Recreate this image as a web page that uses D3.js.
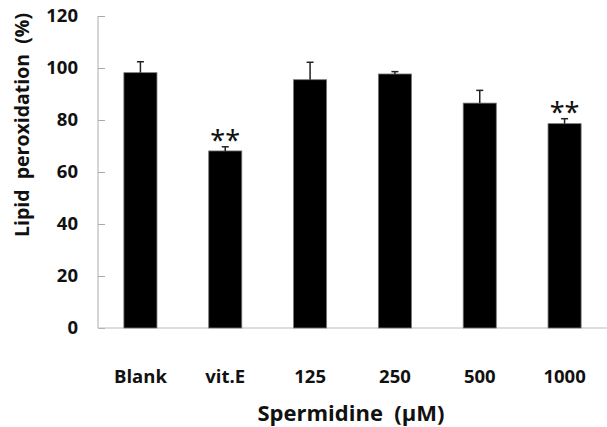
<!DOCTYPE html>
<html>
<head>
<meta charset="utf-8">
<script src="https://cdn.jsdelivr.net/npm/d3@7"></script>
<style>
  body { margin: 0; background: #fff; }
  text { font-family: "Open Sans", "Noto Sans", sans-serif; fill: #111; white-space: pre; }
</style>
</head>
<body>
<svg id="chart"></svg>
<script>
// values
var groups = ["Blank", "vit.E", "125", "250", "500", "1000"];
var means = [98.2, 68.1, 95.5, 97.7, 86.5, 78.6];
var errors = [4.2, 1.6, 6.7, 0.9, 4.9, 1.9];
var signif = ["", "**", "", "", "", "**"];
var yTicks = [0, 20, 40, 60, 80, 100, 120];

var width = 607, height = 427;
var margin = {top: 16, right: 0, bottom: 99, left: 98};

var svg = d3.select("#chart")
  .attr("width", width)
  .attr("height", height);

var x = d3.scaleBand()
  .domain(groups)
  .range([margin.left, width - margin.right])
  .paddingInner(0.61)
  .paddingOuter(0.305);

var y = d3.scaleLinear()
  .domain([0, 120])
  .range([height - margin.bottom, margin.top]);

// y axis, ticks pointing inward
var yAxis = svg.append("g")
  .attr("transform", "translate(" + margin.left + ",0)")
  .call(d3.axisRight(y).tickValues(yTicks).tickSize(7).tickFormat(d3.format("d")));
yAxis.select(".domain").attr("stroke", "#aaa").attr("d", "M0," + y(0) + "V" + y(120));
yAxis.selectAll(".tick line").attr("stroke", "#aaa");
yAxis.selectAll(".tick text")
  .attr("x", -20)
  .attr("text-anchor", "end")
  .style("font-size", "18.5px")
  .style("font-weight", "bold");

// x axis
var xAxis = svg.append("g")
  .attr("transform", "translate(0," + y(0) + ")")
  .call(d3.axisBottom(x).tickSize(0));
xAxis.select(".domain").attr("stroke", "#bbb").attr("d", "M" + margin.left + ",0H" + width);
xAxis.selectAll(".tick text")
  .attr("y", 55)
  .attr("dy", "0")
  .style("font-size", "18.5px")
  .style("font-weight", "bold");

// bars
svg.selectAll("rect.bar")
  .data(means)
  .enter()
  .append("rect")
  .attr("class", "bar")
  .attr("x", function(d, i) { return x(groups[i]); })
  .attr("y", function(d) { return y(d); })
  .attr("width", x.bandwidth())
  .attr("height", function(d) { return y(0) - y(d); })
  .attr("fill", "#000")
  .attr("stroke", "#777")
  .attr("stroke-width", 0.8);

// upper error bars
var err = svg.selectAll("g.err")
  .data(means)
  .enter()
  .append("g")
  .attr("class", "err")
  .attr("transform", function(d, i) { return "translate(" + (x(groups[i]) + x.bandwidth() / 2) + ",0)"; });
err.append("line")
  .attr("y1", function(d) { return y(d); })
  .attr("y2", function(d, i) { return y(d + errors[i]); })
  .attr("stroke", "#222").attr("stroke-width", 1.5);
err.append("line")
  .attr("x1", -3.5).attr("x2", 3.5)
  .attr("y1", function(d, i) { return y(d + errors[i]); })
  .attr("y2", function(d, i) { return y(d + errors[i]); })
  .attr("stroke", "#222").attr("stroke-width", 1.5);

// significance marks
svg.selectAll("text.sig")
  .data(means)
  .enter()
  .append("text")
  .attr("class", "sig")
  .attr("x", function(d, i) { return x(groups[i]) + x.bandwidth() / 2; })
  .attr("y", function(d, i) { return y(d + errors[i]) + 3; })
  .attr("text-anchor", "middle")
  .style("font-family", "'Noto Sans', sans-serif")
  .style("font-size", "27px")
  .style("font-weight", "normal")
  .text(function(d, i) { return signif[i]; });

// axis titles
svg.append("text")
  .attr("x", 351)
  .attr("y", 421)
  .attr("text-anchor", "middle")
  .style("font-size", "22px")
  .style("font-weight", "bold")
  .text("Spermidine  (\u03bcM)");

svg.append("text")
  .attr("transform", "translate(29,125) rotate(-90)")
  .attr("text-anchor", "middle")
  .style("font-size", "19.5px")
  .style("font-weight", "bold")
  .text("Lipid  peroxidation  (%)");
</script>
</body>
</html>
